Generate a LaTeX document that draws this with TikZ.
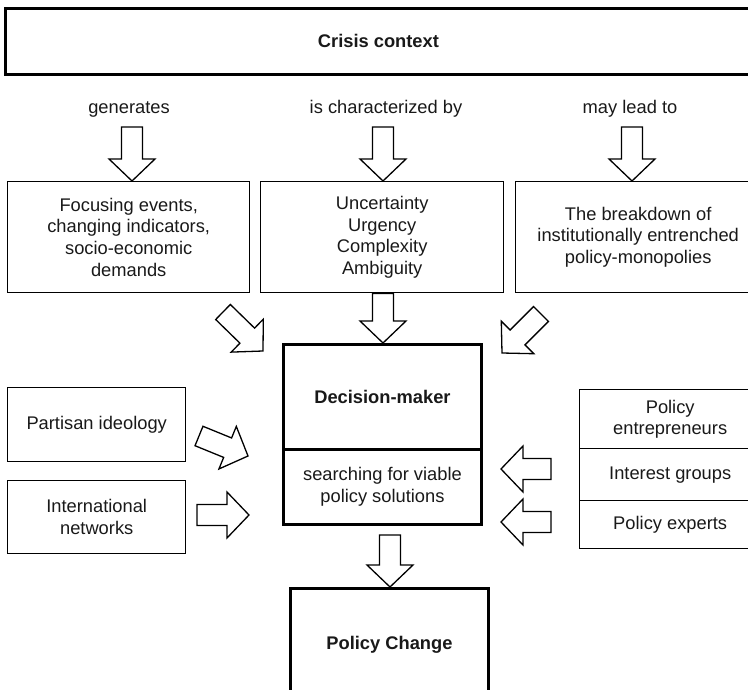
\documentclass[tikz,border=0pt]{standalone}
\usepackage{fontspec}
\setmainfont{Liberation Sans}
\usetikzlibrary{calc}
\newcommand\blockarr[2]{%
  \path ($(#2)!22pt!(#1)$) coordinate (hb);
  \draw[barrow] ($(#1)!10.5pt!90:(#2)$) -- ($(hb)!10.5pt!90:(#2)$) -- ($(hb)!23pt!90:(#2)$) -- (#2) -- ($(hb)!23pt!-90:(#2)$) -- ($(hb)!10.5pt!-90:(#2)$) -- ($(#1)!10.5pt!-90:(#2)$) -- cycle;}
\begin{document}
\begin{tikzpicture}[x=1pt,y=-1pt,
  box/.style={draw=black,line width=1.4pt,align=center,inner sep=0pt,anchor=north west,font=\fontsize{18.3}{21.8}\selectfont,text=black!90},
  tbox/.style={box,line width=2.9pt},
  bold/.style={font=\fontsize{18.3}{21.8}\selectfont\bfseries},
  lab/.style={font=\fontsize{18.3}{21.8}\selectfont,inner sep=0pt,text=black!90},
  barrow/.style={draw=black,line width=1.3pt,fill=white,line join=miter}]
\useasboundingbox (0,0) rectangle (748,690);
% top
\node[tbox,bold,minimum width=746pt,minimum height=66pt] (crisis) at (4,7) {Crisis context};
\node[lab] (l1) at (129,109) {generates};
\node[lab] (l2) at (386,109) {is characterized by};
\node[lab] (l3) at (630,109) {may lead to};
% second row
\node[box,minimum width=242pt,minimum height=111pt] (b1) at (7,181) {Focusing events,\\changing indicators,\\socio-economic\\demands};
\node[box,minimum width=243pt,minimum height=111pt] (b2) at (260,181) {Uncertainty\\Urgency\\Complexity\\Ambiguity};
\node[box,minimum width=245pt,minimum height=111pt] (b3) at (515,181) {The breakdown of\\institutionally entrenched\\policy-monopolies};
% decision maker
\node[tbox,bold,minimum width=198pt,minimum height=105pt] (dm) at (282,343) {Decision-maker};
\node[tbox,minimum width=198pt,minimum height=75pt] (sr) at (282,448) {searching for viable\\policy solutions};
% left
\node[box,minimum width=178pt,minimum height=74pt] (pi) at (7,387) {Partisan ideology};
\node[box,minimum width=178pt,minimum height=73pt] (in) at (7,480) {International\\networks};
% right
\node[box,minimum width=181pt,minimum height=59pt] (pe) at (579,389) {Policy\\entrepreneurs};
\node[box,minimum width=181pt,minimum height=52pt] (ig) at (579,448) {Interest groups};
\node[box,minimum width=181pt,minimum height=48pt] (px) at (579,500) {Policy experts};
% bottom
\node[tbox,bold,minimum width=198pt,minimum height=113pt] (pc) at (289,587) {Policy Change};
% arrows
\coordinate (t1) at (132,127);
\coordinate (t2) at (383,127);
\coordinate (t3) at (632,127);
\coordinate (t5) at (223,312);
\coordinate (h5) at (263,351);
\coordinate (t6) at (541,314);
\coordinate (h6) at (502,353);
\coordinate (t7) at (199,436);
\coordinate (h7) at (248,456);
\coordinate (t8) at (197,515);
\coordinate (h8) at (249,515);
\coordinate (t9) at (551,469);
\coordinate (h9) at (501,469);
\coordinate (t10) at (551,522);
\coordinate (h10) at (501,522);
\coordinate (t11) at (390,535);
\coordinate (a1) at (t1 |- b1.north);
\coordinate (a2) at (t2 |- b2.north);
\coordinate (a3) at (t3 |- b3.north);
\coordinate (a4s) at (t2 |- b2.south);
\coordinate (a4) at (t2 |- dm.north);
\coordinate (a11) at (t11 |- pc.north);
\blockarr{t1}{a1}
\blockarr{t2}{a2}
\blockarr{t3}{a3}
\blockarr{a4s}{a4}
\blockarr{t5}{h5}
\blockarr{t6}{h6}
\blockarr{t7}{h7}
\blockarr{t8}{h8}
\blockarr{t9}{h9}
\blockarr{t10}{h10}
\blockarr{t11}{a11}
\end{tikzpicture}
\end{document}
